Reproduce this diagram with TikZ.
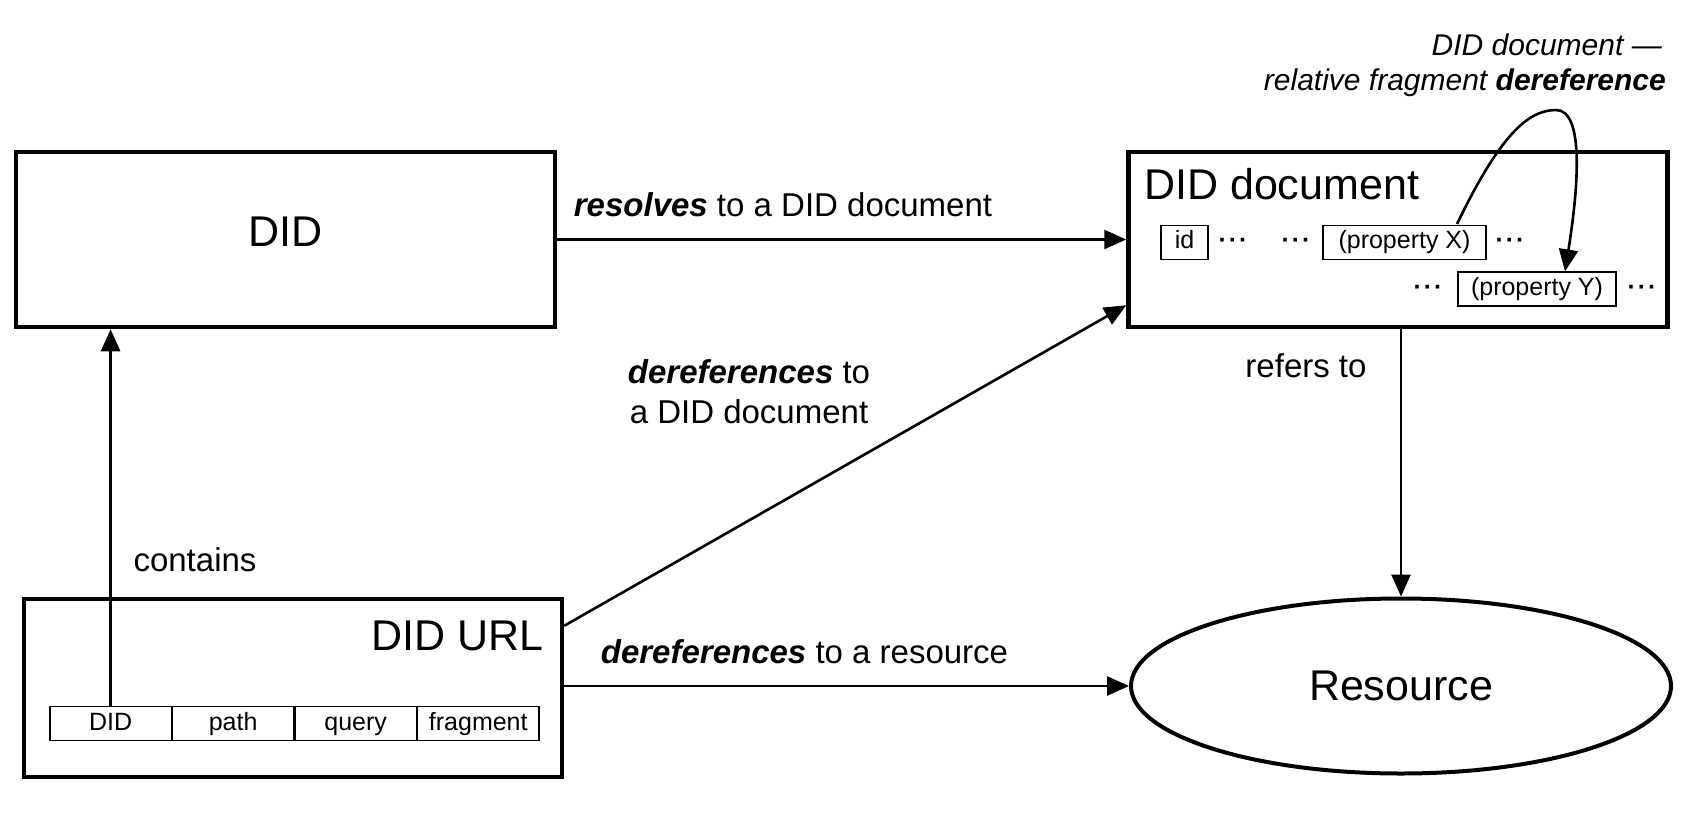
\documentclass[tikz,border=0pt]{standalone}
\usepackage{fontspec}
\setmainfont{Liberation Sans}
\usetikzlibrary{arrows.meta,shapes.geometric,calc}
\newcommand{\mydots}{·\kern2pt·\kern2pt·}
\begin{document}
\begin{tikzpicture}[x=1pt,y=-1pt,
  bigbox/.style={draw, line width=4.5pt, inner sep=0pt, minimum width=539pt, minimum height=175pt},
  bigfont/.style={font=\fontsize{43}{50}\selectfont},
  lbl/.style={font=\fontsize{33}{40}\selectfont, inner sep=0pt},
  toplbl/.style={font=\fontsize{30}{36}\selectfont\itshape, inner sep=0pt},
  smallbox/.style={draw, line width=1.3pt, inner sep=0pt, minimum height=34pt, text height=18pt, text depth=5pt, font=\fontsize{25}{30}\selectfont},
  dotsnode/.style={inner sep=0pt, anchor=base, font=\fontsize{25}{30}\selectfont\bfseries},
  conn/.style={line width=2.6pt, -{Triangle[length=22pt,width=19pt]}}]
\useasboundingbox (0,0) rectangle (1696,818);

% main boxes
\node[bigbox] (did) at (285.5,239.5) {};
\node[bigfont, anchor=base] (didtxt) at (285.5,247) {DID};
\node[bigbox] (doc) at (1398,239.5) {};
\node[bigfont, anchor=base west, inner sep=0pt] (doctitle) at (1144,200) {DID document};
\node[draw, line width=4.5pt, inner sep=0pt, minimum width=538pt, minimum height=178pt] (url) at (293,688) {};
\node[bigfont, anchor=base east, inner sep=0pt] (urltxt) at (544,650) {DID URL};
\node[ellipse, draw, line width=4pt, inner sep=0pt, minimum width=540pt, minimum height=175pt, bigfont] (res) at (1401,686) {Resource};

% DID URL parts
\node[smallbox, minimum width=121.25pt] (cdid) at (110.6,723.5) {DID};
\node[smallbox, minimum width=121.25pt, anchor=west] (cpath) at (cdid.east) {path};
\node[smallbox, minimum width=121.25pt, anchor=west] (cquery) at (cpath.east) {query};
\node[smallbox, minimum width=121.25pt, anchor=west] (cfrag) at (cquery.east) {fragment};

% DID document properties
\node[smallbox, minimum width=47pt] (pid) at (1184.5,242.5) {id};
\node[dotsnode] (d1) at (1233,249) {\mydots};
\node[dotsnode] (d2) at (1296,249) {\mydots};
\node[smallbox, minimum width=163pt] (px) at (1404.5,242.5) {(property X)};
\node[dotsnode] (d3) at (1510,249) {\mydots};
\node[dotsnode] (d4) at (1428,295.5) {\mydots};
\node[smallbox, minimum width=158pt] (py) at (1537,289) {(property Y)};
\node[dotsnode] (d5) at (1642,295.5) {\mydots};

% connectors
\draw[conn] (did.east) -- (doc.west);
\draw[conn] (cdid.north) -- (cdid.north |- did.south);
\coordinate (ds) at ($(url.north east)+(0,29)$);
\coordinate (de) at ($(doc.south west)+(0,-24)$);
\draw[conn] (ds) -- (de);
\draw[conn] (url.east |- res.west) -- (res.west);
\draw[conn] (res.north |- doc.south) -- (res.north);
\coordinate (cs) at (1457,224);
\coordinate (ctop) at (1556,110);
\draw[conn] (cs) .. controls (1500,135) and (1528,110) .. (ctop) .. controls (1585,110) and (1578,190) .. (py.north -| 1565,0);

% labels
\node[lbl, anchor=base] (l1) at (783,217) {\textbf{\textit{resolves}} to a DID document};
\node[lbl, anchor=base] (l2) at (749,383) {\textbf{\textit{dereferences}} to};
\node[lbl, anchor=base] (l3) at (749,423) {a DID document};
\node[lbl, anchor=base] (l4) at (804.5,663) {\textbf{\textit{dereferences}} to a resource};
\node[lbl, anchor=base] (l5) at (195,571) {contains};
\node[lbl, anchor=base] (l6) at (1306,377) {refers to};
\node[toplbl, anchor=base east] (t1) at (1662,56) {DID document —};
\node[toplbl, anchor=base east] (t2) at (1666,91) {relative fragment \textbf{dereference}};
\end{tikzpicture}
\end{document}
